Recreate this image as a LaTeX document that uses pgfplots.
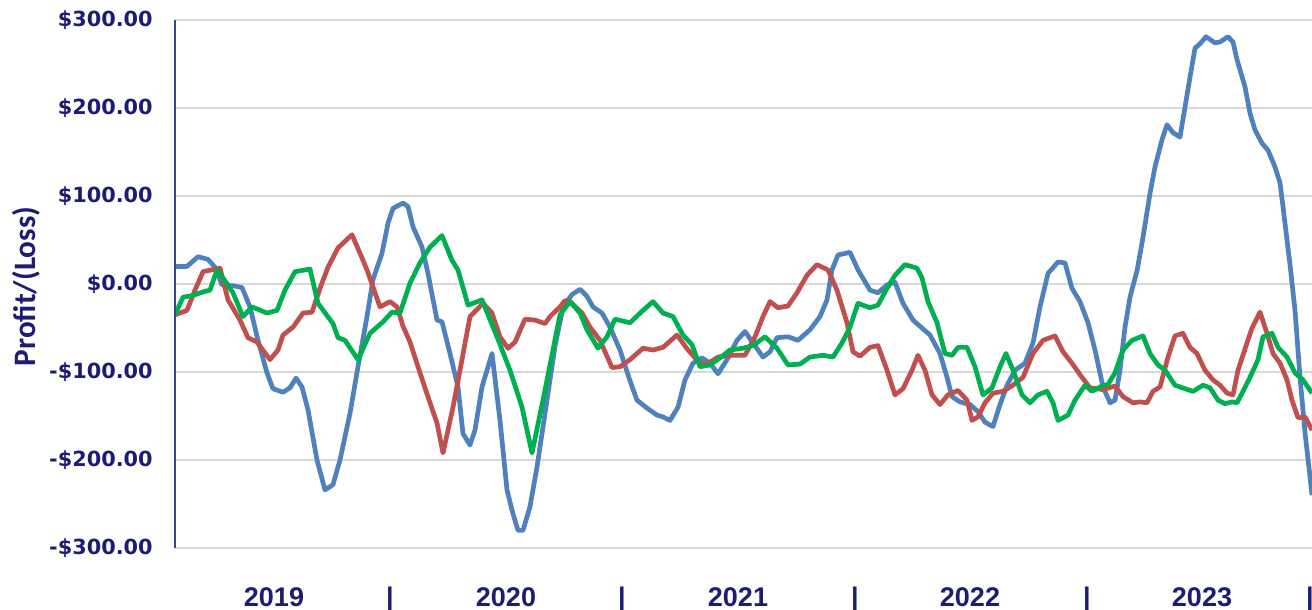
\documentclass[border=0pt]{standalone}
\usepackage{fontspec}
\setmainfont{DejaVu Sans}
\newfontfamily\yearfont{Liberation Sans}
\newfontfamily\titlefont{Carlito}
\usepackage{pgfplots}
\pgfplotsset{compat=1.18}

\definecolor{navytext}{HTML}{1C1C73}
\definecolor{axisblue}{HTML}{2E4C8C}
\definecolor{gridgray}{HTML}{D9D9D9}
\definecolor{serblue}{HTML}{4F81BD}
\definecolor{serred}{HTML}{C0504D}
\definecolor{sergreen}{HTML}{00B050}

\begin{document}
\begin{tikzpicture}
  % x runs in chart units: each year spans 232 units, 2019 starts at 158
  \begin{axis}[
      scale only axis, width=568.5pt, height=264pt,
      xmin=175, xmax=1312, ymin=-300, ymax=300,
      axis line style={draw=none},
      tick style={draw=none}, major tick length=0pt,
      ymajorgrids, grid style={draw=gridgray, line width=0.75pt},
      ytick={-300,-200,...,300},
      yticklabels={-\$300.00,-\$200.00,-\$100.00,\$0.00,\$100.00,\$200.00,\$300.00},
      yticklabel style={anchor=east, inner sep=0pt, xshift=-11pt,
        font=\fontsize{10.4}{12}\selectfont\bfseries, text=navytext},
      xtick={274,390,506,622,738,855,970,1087,1202,1310},
      xticklabels={2019,|,2020,|,2021,|,2022,|,2023,|},
      xticklabel style={anchor=base, inner sep=0pt, yshift=-29.5pt,
        font=\yearfont\fontsize{13.5}{15}\selectfont\bfseries, text=navytext},
      every axis plot/.append style={line width=2.35pt, line join=round, no markers},
    ]

    % blue series
    \addplot[serblue] coordinates {
      (175,20) (187,20) (198,31) (208,28) (215,19) (222,-1) (233,-2) (242,-4)
      (250,-26) (258,-64) (267,-101) (273,-119) (283,-123) (290,-118) (296,-107)
      (302,-117) (308,-143) (317,-200) (325,-234) (333,-228) (340,-200) (350,-147)
      (358,-94) (367,-37) (373,5) (382,35) (388,69) (393,86) (403,92) (408,88)
      (413,65) (422,42) (428,12) (437,-41) (442,-43) (450,-79) (458,-117)
      (463,-170) (470,-183) (475,-166) (482,-117) (492,-79) (500,-155) (507,-234)
      (512,-257) (518,-280) (523,-280) (530,-253) (537,-208) (547,-132) (555,-71)
      (563,-26) (572,-12) (580,-6) (587,-14) (593,-26) (602,-33) (610,-49)
      (620,-75) (630,-110) (637,-132) (647,-141) (657,-149) (663,-151) (670,-155)
      (678,-140) (685,-109) (693,-90) (702,-84) (710,-90) (718,-102) (727,-86)
      (737,-64) (745,-54) (753,-67) (763,-83) (770,-77) (777,-61) (788,-60)
      (798,-64) (810,-52) (820,-37) (827,-18) (832,16) (838,33) (850,36) (858,16)
      (870,-7) (878,-10) (887,-1) (895,2) (903,-22) (913,-41) (922,-50) (930,-58)
      (940,-79) (947,-106) (952,-128) (960,-134) (970,-137) (978,-145) (985,-157)
      (993,-162) (1000,-137) (1007,-115) (1015,-98) (1025,-90) (1033,-67)
      (1040,-26) (1048,12) (1058,25) (1065,24) (1072,-5) (1080,-20) (1088,-44)
      (1095,-75) (1103,-117) (1110,-135) (1115,-132) (1120,-98) (1125,-49)
      (1130,-15) (1137,15) (1143,53) (1150,103) (1155,133) (1162,164) (1167,181)
      (1173,172) (1180,167) (1185,201) (1190,235) (1195,268) (1200,273) (1206,281)
      (1215,274) (1220,275) (1228,281) (1233,275) (1237,255) (1245,224) (1250,194)
      (1255,175) (1262,160) (1268,152) (1275,133) (1280,115) (1283,88) (1287,50)
      (1290,22) (1295,-30) (1300,-106) (1305,-169) (1310,-219) (1312,-240)
    };

    % red series
    \addplot[serred] coordinates {
      (175,-35) (187,-30) (195,-7) (203,14) (220,18) (228,-18) (240,-41) (248,-61)
      (257,-66) (270,-86) (278,-75) (283,-58) (293,-49) (303,-33) (312,-32)
      (320,-5) (328,19) (338,41) (352,56) (360,35) (367,16) (380,-26) (390,-20)
      (397,-26) (403,-48) (410,-66) (420,-101) (430,-135) (437,-158) (443,-192)
      (453,-140) (462,-86) (470,-37) (483,-22) (492,-33) (500,-60) (508,-73)
      (515,-66) (525,-40) (535,-41) (545,-45) (550,-37) (560,-26) (565,-19)
      (570,-20) (582,-33) (590,-49) (600,-64) (612,-95) (620,-94) (630,-86)
      (643,-73) (653,-75) (663,-72) (677,-58) (688,-75) (700,-90) (707,-91)
      (718,-83) (730,-81) (745,-81) (755,-60) (763,-37) (770,-20) (778,-27)
      (788,-25) (797,-10) (807,10) (817,22) (828,16) (837,-7) (847,-44) (853,-77)
      (860,-82) (870,-72) (878,-70) (887,-98) (895,-126) (903,-119) (912,-98)
      (918,-81) (925,-98) (932,-126) (940,-137) (948,-126) (958,-121) (967,-132)
      (972,-155) (978,-151) (985,-135) (993,-124) (1003,-122) (1013,-115)
      (1023,-106) (1033,-79) (1043,-64) (1055,-59) (1063,-77) (1072,-90)
      (1080,-103) (1090,-118) (1103,-120) (1115,-116) (1123,-128) (1133,-135)
      (1140,-134) (1147,-135) (1153,-122) (1160,-117) (1168,-83) (1175,-59)
      (1183,-56) (1190,-72) (1197,-79) (1205,-98) (1213,-109) (1220,-115)
      (1227,-124) (1233,-126) (1238,-98) (1247,-67) (1252,-50) (1260,-32)
      (1267,-56) (1273,-79) (1280,-90) (1287,-109) (1292,-132) (1298,-152)
      (1305,-151) (1312,-166)
    };

    % green series
    \addplot[sergreen] coordinates {
      (175,-35) (183,-15) (193,-13) (203,-9) (210,-7) (217,16) (223,7) (233,-10)
      (243,-37) (252,-26) (267,-33) (277,-30) (285,-7) (295,14) (310,17)
      (318,-22) (333,-45) (338,-61) (345,-64) (358,-86) (370,-56) (383,-43)
      (392,-32) (400,-33) (410,1) (420,24) (430,42) (442,55) (452,27) (458,16)
      (468,-24) (482,-18) (497,-60) (510,-98) (522,-140) (532,-192) (543,-132)
      (553,-75) (560,-35) (570,-20) (580,-33) (587,-52) (598,-73) (607,-60)
      (615,-40) (630,-44) (643,-30) (653,-20) (663,-33) (673,-37) (683,-58)
      (692,-69) (700,-94) (710,-92) (720,-84) (730,-75) (743,-73) (753,-70)
      (765,-60) (777,-73) (788,-92) (800,-91) (810,-83) (823,-81) (833,-83)
      (842,-67) (850,-49) (858,-22) (870,-27) (878,-24) (885,-9) (895,10)
      (905,22) (917,18) (922,7) (928,-20) (937,-44) (945,-79) (952,-81)
      (958,-72) (967,-72) (975,-94) (983,-126) (992,-118) (1000,-94) (1006,-79)
      (1013,-98) (1022,-126) (1030,-135) (1038,-126) (1047,-122) (1053,-135)
      (1058,-155) (1068,-149) (1075,-132) (1085,-115) (1092,-122) (1100,-117)
      (1108,-114) (1115,-101) (1123,-75) (1132,-64) (1143,-59) (1150,-79)
      (1158,-92) (1165,-98) (1175,-115) (1185,-119) (1193,-122) (1203,-115)
      (1210,-118) (1218,-132) (1225,-136) (1232,-134) (1237,-135) (1243,-122)
      (1250,-106) (1258,-86) (1263,-60) (1272,-56) (1278,-72) (1287,-83)
      (1295,-101) (1303,-109) (1312,-124)
    };
  \end{axis}

  % left axis line and rotated title
  \draw[axisblue, line width=1pt] (0,0) -- (0,264pt);
  \node[rotate=90, inner sep=0pt, text=navytext,
        font=\titlefont\fontsize{15.6}{17}\selectfont\bfseries]
    at (-74.25pt,130.75pt) {Profit/(Loss)};

  \pgfresetboundingbox
  \path[use as bounding box] (-87.5pt,-31pt) rectangle (568.5pt,274pt);
\end{tikzpicture}
\end{document}
